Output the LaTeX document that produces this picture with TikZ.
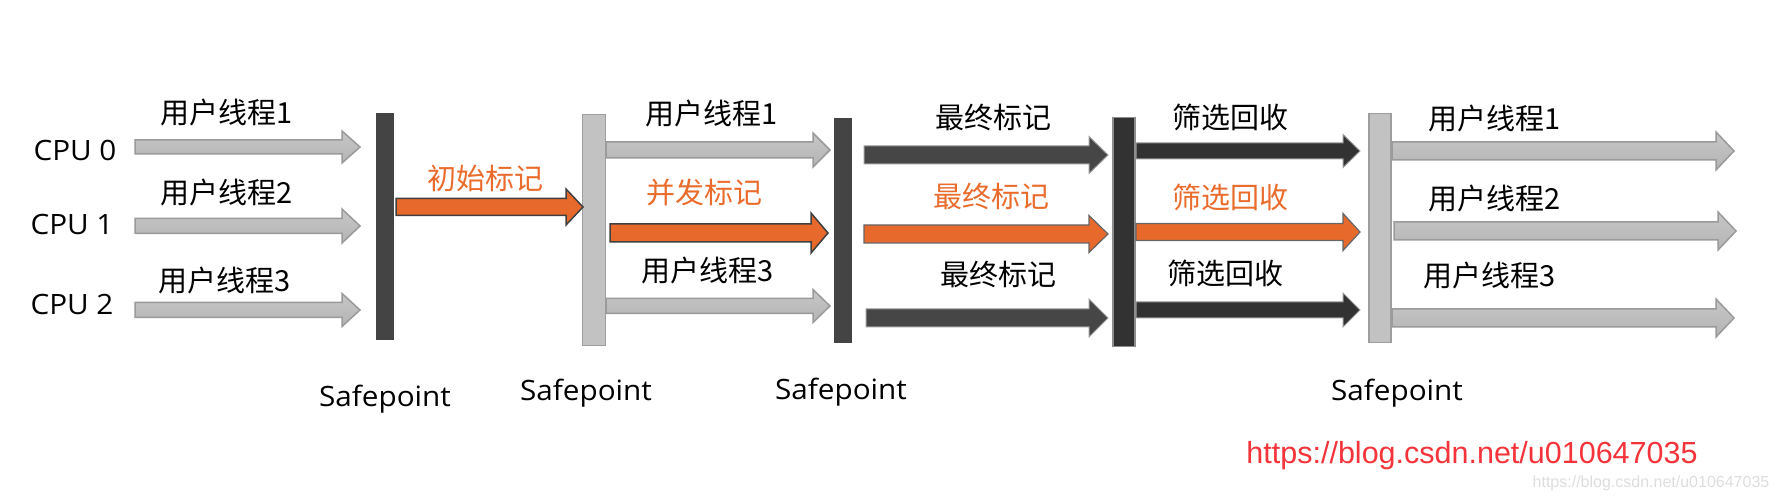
\documentclass[tikz,border=0pt]{standalone}
\usepackage{fontspec}
\setmainfont[FakeStretch=1.06]{Open Sans}
\newfontfamily\cjk{Noto Sans CJK SC}
\newfontfamily\urlf{Liberation Sans}
\usetikzlibrary{calc}
\definecolor{orng}{HTML}{E7692B}
\definecolor{orngtxt}{HTML}{EA6C2D}
\definecolor{darkbarc}{HTML}{444444}
\definecolor{lightbarc}{HTML}{C2C2C2}
\definecolor{lightbord}{HTML}{9E9E9E}
\definecolor{grayfill}{HTML}{BDBDBD}
\definecolor{grayedge}{HTML}{9A9A9A}
\definecolor{darkfill}{HTML}{464646}
\definecolor{darkerfill}{HTML}{323232}
\definecolor{urlred}{HTML}{F4343A}
\definecolor{wmgray}{HTML}{DDDDDD}
\newcommand\blk[6]{%
  \draw[#1] let \p1=(#2), \p2=(#3) in
  (\x1,\y1+#4pt) -- (\x2-#6pt,\y1+#4pt) -- (\x2-#6pt,\y1+#5pt) -- (\x2,\y1)
  -- (\x2-#6pt,\y1-#5pt) -- (\x2-#6pt,\y1-#4pt) -- (\x1,\y1-#4pt) -- cycle;}
\begin{document}
\begin{tikzpicture}[x=1pt,y=-1pt,
  darkbar/.style={fill=darkbarc,draw=none,inner sep=0,outer sep=0},
  lightbar/.style={fill=lightbarc,draw=lightbord,line width=1.5pt,inner sep=0,outer sep=0},
  blackbar/.style={fill=darkerfill,draw=gray!90,line width=1.5pt,inner sep=0,outer sep=0},
  grayarrow/.style={top color=grayfill!85!white,bottom color=grayfill!95!black,draw=grayedge,line width=1.5pt,line join=miter},
  orangearrow/.style={fill=orng,draw=black!75,line width=1.5pt},
  orangearrowb/.style={fill=orng,draw=black!60,line width=1.2pt},
  darkarrow/.style={fill=darkfill,draw=gray!80,line width=1pt},
  darkerarrow/.style={fill=darkerfill,draw=gray!80,line width=1pt},
  cn/.style={font=\cjk\fontsize{29}{32}\selectfont,inner sep=0},
  cno/.style={cn,text=orngtxt},
  lat/.style={font=\fontsize{28}{32}\selectfont,inner sep=0},
]
\useasboundingbox (0,0) rectangle (1780,502);

% CPU labels
\node[lat] (cpu0) at (75,150) {CPU 0};
\node[lat] (cpu1) at (72,225) {CPU 1};
\node[lat] (cpu2) at (72,305) {CPU 2};

% bars
\node[darkbar,minimum width=18pt,minimum height=227pt] (b1) at (385,226.5) {};
\node[lightbar,minimum width=23pt,minimum height=231pt] (b2) at (594,230) {};
\node[darkbar,minimum width=18pt,minimum height=225pt] (b3) at (843,230.5) {};
\node[blackbar,minimum width=22pt,minimum height=229pt] (b4) at (1124,232) {};
\node[lightbar,minimum width=22pt,minimum height=229pt] (b5) at (1380,228) {};

% group A
\blk{grayarrow}{135,147}{360,147}{7}{16}{18}
\blk{grayarrow}{135,226}{360,226}{7.5}{17}{18}
\blk{grayarrow}{135,310}{360,310}{7.5}{16.5}{18}
\node[cn] (u1a) at (227,112) {用户线程1};
\node[cn] (u2a) at (227,192) {用户线程2};
\node[cn] (u3a) at (225,280) {用户线程3};

% initial mark
\blk{orangearrow}{396,207}{583,207}{8.5}{18}{17}
\node[cno] (init) at (485,178) {初始标记};

% group B
\blk{grayarrow}{606,150}{830,150}{8}{17}{17}
\blk{orangearrow}{610,233}{828,233}{9}{20}{17}
\blk{grayarrow}{606,306}{830,306}{7.5}{16.5}{17}
\node[cn] (u1b) at (712,113) {用户线程1};
\node[cno] (conc) at (704,193) {并发标记};
\node[cn] (u3b) at (708,270) {用户线程3};

% group C
\blk{darkarrow}{864,155}{1108,155}{9}{18.5}{19}
\blk{orangearrowb}{864,234}{1108,234}{9}{18.5}{19}
\blk{darkarrow}{866,318}{1108,318}{9}{19}{19}
\node[cn] (f1) at (993,117) {最终标记};
\node[cno] (f2) at (991,196) {最终标记};
\node[cn] (f3) at (998,274) {最终标记};

% group D
\blk{darkerarrow}{1136,151}{1360,151}{8}{16.5}{17}
\blk{orangearrowb}{1136,232}{1360,232}{8.5}{18.5}{17}
\blk{darkerarrow}{1136,310}{1360,310}{8}{17}{17}
\node[cn] (s1) at (1230,117) {筛选回收};
\node[cno] (s2) at (1230,197) {筛选回收};
\node[cn] (s3) at (1225,273) {筛选回收};

% group E
\blk{grayarrow}{1392,151}{1734,151}{9}{19}{18}
\blk{grayarrow}{1394,231}{1736,231}{9}{19}{18}
\blk{grayarrow}{1392,318}{1734,318}{9}{19}{18}
\node[cn] (u1e) at (1495,118) {用户线程1};
\node[cn] (u2e) at (1495,198) {用户线程2};
\node[cn] (u3e) at (1490,275) {用户线程3};

% safepoints
\node[lat] (sp1) at (385,399) {Safepoint};
\node[lat] (sp2) at (586,393) {Safepoint};
\node[lat] (sp3) at (841,392) {Safepoint};
\node[lat] (sp4) at (1397,393) {Safepoint};

% url
\node[font=\urlf\fontsize{30.5}{34}\selectfont,text=urlred,inner sep=0] (url) at (1472,456) {https://blog.csdn.net/u010647035};
\node[font=\urlf\fontsize{16}{18}\selectfont,text=wmgray,inner sep=0] (wm) at (1651,483) {https://blog.csdn.net/u010647035};
\end{tikzpicture}
\end{document}
